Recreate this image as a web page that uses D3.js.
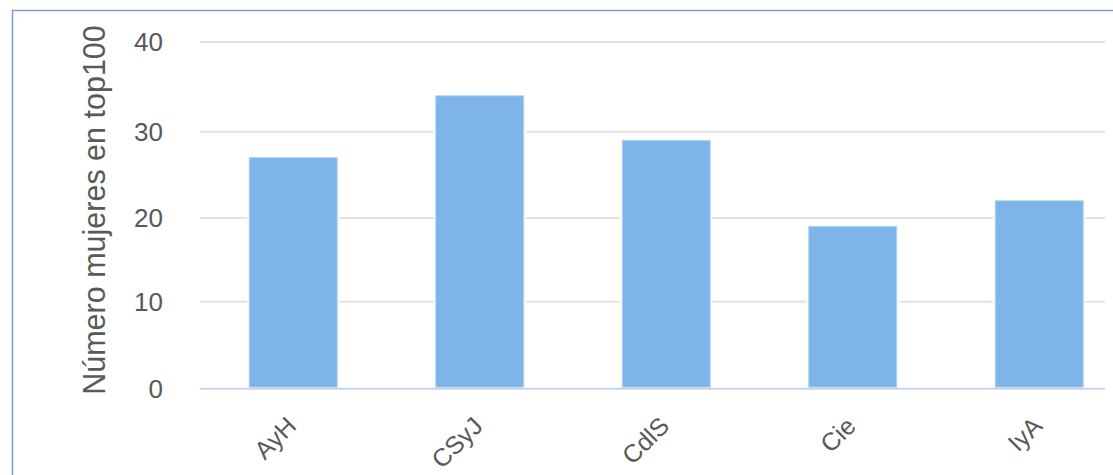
<!DOCTYPE html>
<html><head><meta charset="utf-8">
<script src="https://cdn.jsdelivr.net/npm/d3@7"></script>
<style>
html,body{margin:0;padding:0;background:#fff;overflow:hidden}
svg{display:block;font-family:"Liberation Sans",Arial,sans-serif}
</style></head>
<body>
<svg id="chart" width="1113" height="475"></svg>
<script>
const categories = ["AyH", "CSyJ", "CdlS", "Cie", "IyA"];
const values = [27, 34, 29, 19, 22];
const yTicks = [0, 10, 20, 30, 40];
const yTitle = "Número mujeres en top100";

const svg = d3.select("#chart");

// chart frame border
svg.append("rect").attr("x", 12.5).attr("y", 10.5).attr("width", 1300).attr("height", 600)
  .attr("fill", "none").attr("stroke", "#7c9dcc").attr("stroke-width", 1.5);

const plotL = 200, plotR = 1105;
const y = d3.scaleLinear().domain(yTicks).range([388.7, 301.7, 218, 131.7, 42]);
const x = d3.scaleBand().domain(categories).range([200, 1132.5]).paddingInner(0.528).paddingOuter(0.264);

// gridlines
svg.append("g").selectAll("line").data(yTicks.filter(d => d > 0)).join("line")
  .attr("x1", plotL).attr("x2", plotR)
  .attr("y1", d => y(d)).attr("y2", d => y(d))
  .attr("stroke", "#e3e3e3").attr("stroke-width", 2);

// bars
const bars = svg.append("g");
bars.selectAll("rect.halo").data(values).join("rect").attr("class", "halo")
  .attr("x", (d, i) => x(categories[i]) - 2)
  .attr("width", x.bandwidth() + 4)
  .attr("y", d => y(d) - 2)
  .attr("height", d => y(0) - y(d) + 2)
  .attr("fill", "#fff");
bars.selectAll("rect.bar").data(values).join("rect").attr("class", "bar")
  .attr("x", (d, i) => x(categories[i]))
  .attr("width", x.bandwidth())
  .attr("y", d => y(d))
  .attr("height", d => y(0) - y(d) - 1.5)
  .attr("fill", "#7db4ea")
  .attr("stroke", "#b3d3f3").attr("stroke-width", 1);

// x axis line
svg.append("line").attr("x1", plotL).attr("x2", plotR)
  .attr("y1", y(0)).attr("y2", y(0))
  .attr("stroke", "#c8d4ec").attr("stroke-width", 2);

// y tick labels
svg.append("g").selectAll("text").data(yTicks).join("text")
  .attr("x", 163).attr("y", d => y(d))
  .attr("dy", "0.36em")
  .attr("text-anchor", "end")
  .attr("font-size", 26)
  .attr("fill", "#595959")
  .text(d => d);

// x category labels
svg.append("g").selectAll("text").data(categories).join("text")
  .attr("transform", d => `translate(${x(d) + x.bandwidth() / 2 - 8},${415}) rotate(-45)`)
  .attr("text-anchor", "end")
  .attr("dy", "0.71em")
  .attr("font-size", 25)
  .attr("fill", "#595959")
  .text(d => d);

// y title
svg.append("text")
  .attr("transform", `translate(105,210) rotate(-90)`)
  .attr("text-anchor", "middle")
  .attr("font-size", 30.5)
  .attr("fill", "#595959")
  .text(yTitle);
</script>
</body></html>
